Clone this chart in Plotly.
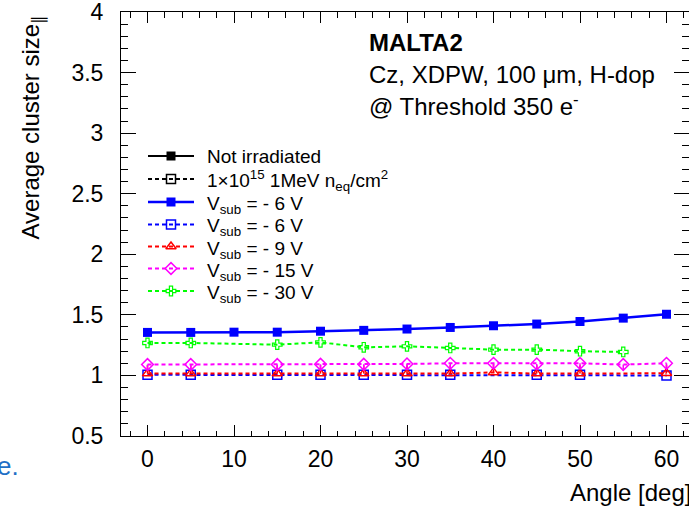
import plotly.graph_objects as go

# --- data -------------------------------------------------------------
angles_unirr = [0, 5, 10, 15, 20, 25, 30, 35, 40, 45, 50, 55, 60]
size_unirr_6V = [1.355, 1.355, 1.357, 1.357, 1.365, 1.372, 1.383, 1.396,
                 1.410, 1.424, 1.445, 1.473, 1.505]

angles_irr_6V = [0, 5, 15, 20, 25, 30, 35, 45, 50, 60]
size_irr_6V = [1.005, 1.005, 1.005, 1.005, 1.005, 1.005, 1.005, 1.005,
               1.005, 1.000]

angles_irr_9V = [0, 5, 15, 20, 25, 30, 35, 40, 45, 50, 60]
size_irr_9V = [1.015, 1.015, 1.015, 1.015, 1.015, 1.015, 1.015, 1.025,
               1.015, 1.015, 1.018]
err_up_9V = [0.07] * len(size_irr_9V)

angles_irr_15V = [0, 5, 15, 20, 25, 30, 35, 40, 45, 50, 55, 60]
size_irr_15V = [1.090, 1.090, 1.090, 1.092, 1.092, 1.095, 1.100, 1.100,
                1.095, 1.100, 1.090, 1.100]
err_dn_15V = [0.05] * len(size_irr_15V)

angles_irr_30V = [0, 5, 15, 20, 25, 30, 35, 40, 45, 50, 55]
size_irr_30V = [1.268, 1.268, 1.254, 1.273, 1.232, 1.240, 1.227, 1.213,
                1.213, 1.200, 1.194]

x_ticks = [0, 10, 20, 30, 40, 50, 60]
y_ticks = [0.5, 1, 1.5, 2, 2.5, 3, 3.5, 4]

legend_labels = [
    "Not irradiated",
    "1\u00d710<sup>15</sup> 1MeV n<sub>eq</sub>/cm<sup>2</sup>",
    "V<sub>sub</sub> = - 6 V",
    "V<sub>sub</sub> = - 6 V",
    "V<sub>sub</sub> = - 9 V",
    "V<sub>sub</sub> = - 15 V",
    "V<sub>sub</sub> = - 30 V",
]

# --- page geometry (pixels) ------------------------------------------
W, H = 689, 513
L, R, T, B = 121, 0, 12, 77
PW, PH = W - L - R, H - T - B

def px(x):
    return (x - L) / PW

def py(y):
    return (H - B - y) / PH

FONT = "Liberation Sans, Arial, Helvetica, sans-serif"

BLUE = "#0000ff"
RED = "#ff0000"
MAGENTA = "#ff00ff"
GREEN = "#00ff00"
DASH = "4px,3px"

# line / marker style of each series, in legend order
styles = [
    dict(color="black", dash="solid", width=2, symbol="square", lw=0),
    dict(color="black", dash=DASH, width=2, symbol="square-open", lw=1.5),
    dict(color=BLUE, dash="solid", width=2.5, symbol="square", lw=0),
    dict(color=BLUE, dash=DASH, width=2, symbol="square-open", lw=1.5),
    dict(color=RED, dash=DASH, width=2, symbol="triangle-up-open", lw=1.5),
    dict(color=MAGENTA, dash=DASH, width=2, symbol="diamond-open", lw=1.5),
    dict(color=GREEN, dash=DASH, width=2, symbol="cross-open", lw=1.2),
]

def line_of(s):
    return dict(color=s["color"], width=s["width"], dash=s["dash"])

def marker_of(s):
    size = 8 if s["symbol"] == "cross-open" else 9
    return dict(symbol=s["symbol"], size=size, color=s["color"],
                line=dict(width=s["lw"], color=s["color"]))

fig = go.Figure()

series = [
    (angles_unirr, size_unirr_6V, styles[2], None),
    (angles_irr_6V, size_irr_6V, styles[3], None),
    (angles_irr_9V, size_irr_9V, styles[4],
     dict(type="data", symmetric=False, array=err_up_9V,
          arrayminus=[0] * len(err_up_9V), width=0, thickness=1.5,
          color=RED)),
    (angles_irr_15V, size_irr_15V, styles[5],
     dict(type="data", symmetric=False, array=[0] * len(err_dn_15V),
          arrayminus=err_dn_15V, width=0, thickness=1.5, color=MAGENTA)),
    (angles_irr_30V, size_irr_30V, styles[6], None),
]
for xs, ys, s, err in series:
    fig.add_trace(go.Scatter(
        x=xs, y=ys, mode="lines+markers", showlegend=False,
        line=line_of(s), marker=marker_of(s),
        error_y=err if err else None))

# --- legend drawn on a pixel-scaled overlay axis -------------------------
row_y = [156, 179, 202, 224.5, 246.5, 268.5, 291]
seg_x0, seg_x1, text_x = 148, 194, 205
ann = []
for label, s, yy in zip(legend_labels, styles, row_y):
    fig.add_trace(go.Scatter(
        x=[seg_x0, seg_x1], y=[yy, yy], xaxis="x2", yaxis="y2",
        mode="lines", line=line_of(s), showlegend=False,
        hoverinfo="skip", cliponaxis=False))
    fig.add_trace(go.Scatter(
        x=[(seg_x0 + seg_x1) / 2], y=[yy], xaxis="x2", yaxis="y2",
        mode="markers", marker=marker_of(s),
        showlegend=False, hoverinfo="skip", cliponaxis=False))
    shift = 3 if ("<sub>" in label and "<sup>" not in label) else 1
    ann.append(dict(x=px(text_x), y=py(yy + shift), xref="paper",
                    yref="paper", text=label, xanchor="left",
                    yanchor="middle", showarrow=False,
                    font=dict(family=FONT, size=19, color="black")))

# --- axes ---------------------------------------------------------------
x0 = (L - 147.5) / 8.65
x1 = (W - R - 147.5) / 8.65
fig.update_layout(
    xaxis=dict(
        range=[x0, x1], tickvals=x_ticks, ticktext=[str(v) for v in x_ticks],
        ticks="inside", ticklen=11, tickwidth=1, tickcolor="black",
        showline=True, linecolor="black", linewidth=1, mirror="allticks",
        showgrid=False, zeroline=False,
        tickfont=dict(family=FONT, size=23, color="black"),
        minor=dict(dtick=2, tick0=0, ticks="inside", ticklen=5.5,
                   tickcolor="black", showgrid=False),
        ticklabelstandoff=2, ticklabeloverflow="allow"),
    yaxis=dict(
        range=[0.5, 4.0], tickvals=y_ticks,
        ticktext=["0.5", "1", "1.5", "2", "2.5", "3", "3.5", "4"],
        ticks="inside", ticklen=15, tickwidth=1, tickcolor="black",
        showline=True, linecolor="black", linewidth=1, mirror="allticks",
        showgrid=False, zeroline=False,
        tickfont=dict(family=FONT, size=23, color="black"),
        minor=dict(dtick=0.1, tick0=0.5, ticks="inside", ticklen=7,
                   tickcolor="black", showgrid=False),
        ticklabelstandoff=12, ticklabeloverflow="allow"),
    xaxis2=dict(overlaying="x", range=[L, W - R], visible=False,
                fixedrange=True),
    yaxis2=dict(overlaying="y", range=[H - B, T], visible=False,
                fixedrange=True),
)

# --- text ---------------------------------------------------------------
def txt(x, y, text, size=24, xanchor="left", color="black", angle=0,
        yanchor="middle"):
    ann.append(dict(x=px(x), y=py(y), xref="paper", yref="paper", text=text,
                    xanchor=xanchor, yanchor=yanchor, textangle=angle,
                    showarrow=False,
                    font=dict(family=FONT, size=size, color=color)))

txt(32, 12, "Average cluster size<sub>\u2225</sub>", xanchor="center",
    yanchor="top", angle=-90)
txt(693, 492, "Angle [deg]", xanchor="right")
txt(367, 42, "<b>MALTA2</b>")
txt(367, 74, "Cz, XDPW, 100 \u03bcm, H-dop")
txt(367, 105, "@ Threshold 350 e<sup>-</sup>")
txt(-5, 466, "e.", size=26, color="#1f6fc6")

fig.update_layout(
    width=W, height=H,
    margin=dict(l=L, r=R, t=T, b=B, pad=0),
    paper_bgcolor="white", plot_bgcolor="white",
    annotations=ann,
    showlegend=False,
)

fig.write_html("out.html")
